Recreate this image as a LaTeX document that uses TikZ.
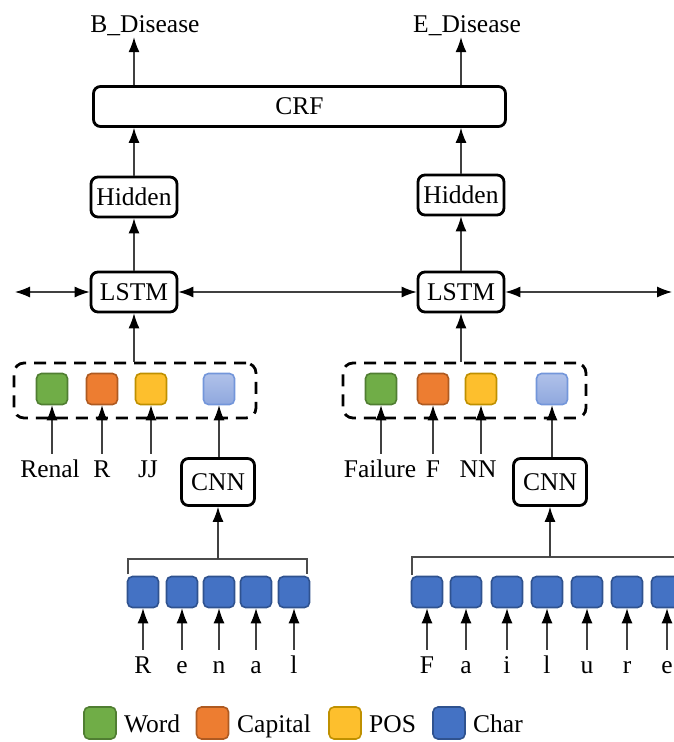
\documentclass[tikz,border=0pt]{standalone}
\usepackage{fontspec}
\setmainfont{Liberation Serif}
\usetikzlibrary{arrows.meta}

\definecolor{wordfill}{HTML}{70AD47}\definecolor{wordline}{HTML}{507E32}
\definecolor{capfill}{HTML}{ED7D31}\definecolor{capline}{HTML}{AE5A21}
\definecolor{posfill}{HTML}{FDBF2D}\definecolor{posline}{HTML}{BF9000}
\definecolor{charfill}{HTML}{4472C4}\definecolor{charline}{HTML}{2F528F}
\definecolor{embtop}{HTML}{B0C1E9}\definecolor{embbot}{HTML}{8FA8DE}
\definecolor{embline}{HTML}{7396DA}

\tikzset{
  txt/.style={font=\fontsize{25.5}{30}\selectfont},
  box/.style={txt, draw=black, line width=2.8pt, rounded corners=7pt, fill=white, inner sep=0pt},
  dashbox/.style={draw=black, line width=2.8pt, rounded corners=10pt, dash pattern=on 12pt off 8pt},
  cell/.style={line width=1.6pt, rounded corners=5pt, minimum width=31pt, minimum height=31pt, inner sep=0pt},
  wordcell/.style={cell, draw=wordline, fill=wordfill},
  capcell/.style={cell, draw=capline, fill=capfill},
  poscell/.style={cell, draw=posline, fill=posfill},
  embcell/.style={cell, draw=embline, top color=embtop, bottom color=embbot},
  charcell/.style={cell, draw=charline, fill=charfill},
  lbl/.style={txt, inner sep=0pt, text height=17pt, text depth=5pt},
  tip/.style={Latex[length=15pt,width=11pt,color=black]},
  conn/.style={line width=1.1pt, draw=black!75, -{Latex[length=15pt,width=11pt,color=black]}},
  biconn/.style={line width=1.1pt, draw=black!75, {Latex[length=15pt,width=11pt,color=black]}-{Latex[length=15pt,width=11pt,color=black]}},
  bracket/.style={line width=1.1pt, draw=black!70},
}

\begin{document}
\begin{tikzpicture}[x=1pt,y=-1pt]
\useasboundingbox (0,0) rectangle (673,742);

% output tags and CRF layer
\node[lbl] (tagB) at (145,26) {B\_Disease};
\node[lbl] (tagE) at (467,26) {E\_Disease};
\node[box, minimum width=412pt, minimum height=40pt] (crf) at (299.5,106.5) {CRF};

% hidden and LSTM layers
\node[box, minimum width=86pt, minimum height=40pt] (hidL) at (134,197) {Hidden};
\node[box, minimum width=86pt, minimum height=40pt] (hidR) at (461,195) {Hidden};
\node[box, minimum width=86pt, minimum height=40pt] (lstmL) at (134,292) {LSTM};
\node[box, minimum width=86pt, minimum height=40pt] (lstmR) at (461,292) {LSTM};

\draw[conn] (crf.north -| hidL) -- (hidL |- tagB.south);
\draw[conn] (crf.north -| hidR) -- (hidR |- tagE.south);
\draw[conn] (hidL.north) -- (crf.south -| hidL);
\draw[conn] (hidR.north) -- (crf.south -| hidR);
\draw[conn] (lstmL.north) -- (hidL.south);
\draw[conn] (lstmR.north) -- (hidR.south);

% bidirectional recurrence
\coordinate (recL) at (15,292);
\coordinate (recR) at (672,292);
\draw[biconn] (recL) -- (lstmL.west);
\draw[biconn] (lstmL.east) -- (lstmR.west);
\draw[biconn] (lstmR.east) -- (recR);

% feature groups
\node[dashbox, minimum width=242pt, minimum height=55pt] (featL) at (135,390.5) {};
\node[dashbox, minimum width=243pt, minimum height=55pt] (featR) at (464.5,390.5) {};
\draw[conn] (lstmL.south |- featL.north) -- (lstmL.south);
\draw[conn] (lstmR.south |- featR.north) -- (lstmR.south);

\node[wordcell] (wL) at (52,389) {};
\node[capcell]  (kL) at (102,389) {};
\node[poscell]  (pL) at (151,389) {};
\node[embcell]  (eL) at (219,389) {};
\node[wordcell] (wR) at (381,389) {};
\node[capcell]  (kR) at (433,389) {};
\node[poscell]  (pR) at (481,389) {};
\node[embcell]  (eR) at (552,389) {};

\node[lbl, anchor=base] (lwL) at (50,477) {Renal};
\node[lbl, anchor=base] (lkL) at (102,477) {R};
\node[lbl, anchor=base] (lpL) at (148,477) {JJ};
\node[lbl, anchor=base] (lwR) at (380,477) {Failure};
\node[lbl, anchor=base] (lkR) at (433,477) {F};
\node[lbl, anchor=base] (lpR) at (478,477) {NN};

\foreach \c/\t in {wL/lwL,kL/lkL,pL/lpL,wR/lwR,kR/lkR,pR/lpR}
  \draw[conn, shorten <=6pt] (\c.south |- \t.north) -- (\c.south);

% character CNNs
\node[box, minimum width=73pt, minimum height=47pt] (cnnL) at (218,482) {CNN};
\node[box, minimum width=73pt, minimum height=47pt] (cnnR) at (550,482) {CNN};
\draw[conn] (eL.south |- cnnL.north) -- (eL.south);
\draw[conn] (eR.south |- cnnR.north) -- (eR.south);

\coordinate (brL1) at (128,574);
\coordinate (brL2) at (307,574);
\coordinate (brR1) at (412,575);
\coordinate (brR2) at (690,557);
\draw[bracket] (brL1) |- (218,559) -| (brL2);
\draw[bracket] (brR1) |- (brR2);
\coordinate (jL) at (218,559);
\coordinate (jR) at (550,557);
\draw[conn] (jL) -- (cnnL.south);
\draw[conn] (jR) -- (cnnR.south);

\foreach \x/\ch [count=\i] in {143/R,182/e,219/n,256/a,294/l} {
  \node[charcell] (cL\i) at (\x,592) {};
  \node[lbl, anchor=base] (tL\i) at (\x,673) {\ch};
  \draw[conn, shorten <=6pt] (tL\i.north) -- (cL\i.south);
}
\foreach \x/\ch [count=\i] in {427/F,466/a,507/i,547/l,587/u,627/r,667/e} {
  \node[charcell] (cR\i) at (\x,592) {};
  \node[lbl, anchor=base] (tR\i) at (\x,673) {\ch};
  \draw[conn, shorten <=6pt] (tR\i.north) -- (cR\i.south);
}

% legend
\node[wordcell, minimum width=32pt, minimum height=32pt] (gW) at (100,723) {};
\node[capcell,  minimum width=32pt, minimum height=32pt] (gK) at (212.5,723) {};
\node[poscell,  minimum width=32pt, minimum height=32pt] (gP) at (345,723) {};
\node[charcell, minimum width=32pt, minimum height=32pt] (gC) at (449,723) {};
\node[txt, inner sep=0pt, anchor=base west] (xW) at (124,732) {Word};
\node[txt, inner sep=0pt, anchor=base west] (xK) at (237,732) {Capital};
\node[txt, inner sep=0pt, anchor=base west] (xP) at (369,732) {POS};
\node[txt, inner sep=0pt, anchor=base west] (xC) at (473,732) {Char};
\end{tikzpicture}
\end{document}
